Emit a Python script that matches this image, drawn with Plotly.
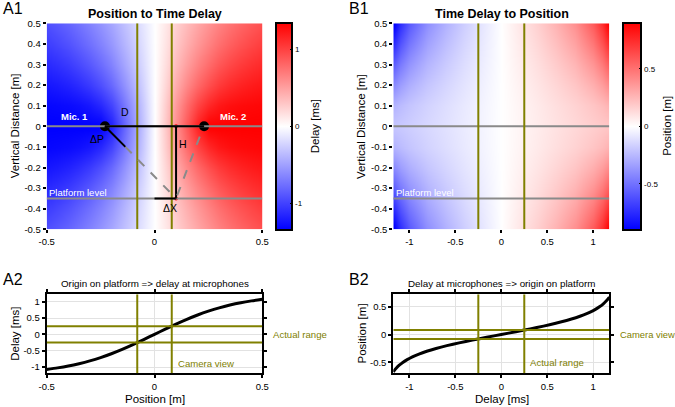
import plotly.graph_objects as go

FONT = "Liberation Sans, Arial, Helvetica, sans-serif"
OLIVE = "#808000"
GRAY = "#8a8a8a"

# ---------------- A1 : delay map (ms) ----------------
a1_x = [-0.5, -0.45, -0.4, -0.35, -0.3, -0.25, -0.2, -0.15, -0.1, -0.05, 0,
        0.05, 0.1, 0.15, 0.2, 0.25, 0.3, 0.35, 0.4, 0.45, 0.5]
a1_y = [-0.5, -0.4, -0.3, -0.2, -0.1, 0, 0.1, 0.2, 0.3, 0.4, 0.5]
delay_y0 = [-1.341, -1.341, -1.341, -1.341, -1.341, -1.341, -1.166, -0.875, -0.583, -0.292, 0,
            0.292, 0.583, 0.875, 1.166, 1.341, 1.341, 1.341, 1.341, 1.341, 1.341]
delay_y1 = [-1.309, -1.299, -1.285, -1.261, -1.217, -1.132, -0.983, -0.772, -0.527, -0.266, 0,
            0.266, 0.527, 0.772, 0.983, 1.132, 1.217, 1.261, 1.285, 1.299, 1.309]
delay_y2 = [-1.227, -1.200, -1.162, -1.109, -1.034, -0.930, -0.793, -0.624, -0.430, -0.219, 0,
            0.219, 0.430, 0.624, 0.793, 0.930, 1.034, 1.109, 1.162, 1.200, 1.227]
delay_y3 = [-1.124, -1.082, -1.029, -0.962, -0.877, -0.773, -0.650, -0.506, -0.347, -0.176, 0,
            0.176, 0.347, 0.506, 0.650, 0.773, 0.877, 0.962, 1.029, 1.082, 1.124]
delay_y4 = [-1.020, -0.969, -0.909, -0.837, -0.752, -0.654, -0.543, -0.419, -0.286, -0.145, 0,
            0.145, 0.286, 0.419, 0.543, 0.654, 0.752, 0.837, 0.909, 0.969, 1.020]
delay_y5 = [-0.923, -0.868, -0.805, -0.734, -0.652, -0.562, -0.462, -0.355, -0.241, -0.122, 0,
            0.122, 0.241, 0.355, 0.462, 0.562, 0.652, 0.734, 0.805, 0.868, 0.923]
a1_z = [delay_y5, delay_y4, delay_y3, delay_y2, delay_y1, delay_y0,
        delay_y1, delay_y2, delay_y3, delay_y4, delay_y5]

# ---------------- B1 : position map (m) ----------------
b1_x = [-1.175, -1.1, -1.0, -0.8, -0.6, -0.4, -0.2, 0, 0.2, 0.4, 0.6, 0.8, 1.0, 1.1, 1.175]
b1_y = [-0.5, -0.4, -0.3, -0.2, -0.1, 0, 0.1, 0.2, 0.3, 0.4, 0.5]
pos_y0 = [-0.2015, -0.1887, -0.1715, -0.1372, -0.1029, -0.0686, -0.0343, 0,
          0.0343, 0.0686, 0.1029, 0.1372, 0.1715, 0.1887, 0.2015]
pos_y1 = [-0.2714, -0.2370, -0.2048, -0.1560, -0.1144, -0.0754, -0.0375, 0,
          0.0375, 0.0754, 0.1144, 0.1560, 0.2048, 0.2370, 0.2714]
pos_y2 = [-0.4156, -0.3433, -0.2820, -0.2023, -0.1435, -0.0928, -0.0457, 0,
          0.0457, 0.0928, 0.1435, 0.2023, 0.2820, 0.3433, 0.4156]
pos_y3 = [-0.5813, -0.4697, -0.3770, -0.2618, -0.1820, -0.1162, -0.0568, 0,
          0.0568, 0.1162, 0.1820, 0.2618, 0.3770, 0.4697, 0.5813]
pos_y4 = [-0.7544, -0.6038, -0.4793, -0.3274, -0.2250, -0.1426, -0.0694, 0,
          0.0694, 0.1426, 0.2250, 0.3274, 0.4793, 0.6038, 0.7544]
pos_y5 = [-0.9308, -0.7413, -0.5852, -0.3961, -0.2705, -0.1706, -0.0828, 0,
          0.0828, 0.1706, 0.2705, 0.3961, 0.5852, 0.7413, 0.9308]
b1_z = [pos_y5, pos_y4, pos_y3, pos_y2, pos_y1, pos_y0,
        pos_y1, pos_y2, pos_y3, pos_y4, pos_y5]

# ---------------- A2 : delay vs position on platform ----------------
a2_pos = [-0.5, -0.45, -0.4, -0.35, -0.3, -0.25, -0.2, -0.15, -0.1, -0.05, 0,
          0.05, 0.1, 0.15, 0.2, 0.25, 0.3, 0.35, 0.4, 0.45, 0.5]
a2_delay = [-1.072, -1.024, -0.967, -0.896, -0.811, -0.710, -0.592, -0.459, -0.314, -0.159, 0,
            0.159, 0.314, 0.459, 0.592, 0.710, 0.811, 0.896, 0.967, 1.024, 1.072]

# ---------------- B2 : position vs delay ----------------
b2_delay = [-1.176, -1.167, -1.141, -1.110, -1.072, -1.024, -0.967, -0.896, -0.811, -0.710,
            -0.592, -0.459, -0.314, -0.159, 0, 0.159, 0.314, 0.459, 0.592, 0.710, 0.811,
            0.896, 0.967, 1.024, 1.072, 1.110, 1.141, 1.167, 1.176]
b2_pos = [-0.67, -0.65, -0.6, -0.55, -0.5, -0.45, -0.4, -0.35, -0.3, -0.25,
          -0.2, -0.15, -0.1, -0.05, 0, 0.05, 0.1, 0.15, 0.2, 0.25, 0.3,
          0.35, 0.4, 0.45, 0.5, 0.55, 0.6, 0.65, 0.67]

# geometry / ranges
mic_x = [-0.23, 0.23]
mic_y = [0, 0]
platform_y = -0.35
camera_view = [-0.08, 0.08]     # m
actual_range = [-0.25, 0.25]    # ms
source_x = 0.1
dp_end = [-0.135, -0.1]
mic2_dash_start = [0.21, -0.05]

ticks_pos = [-0.5, 0, 0.5]
ticks_pos_txt = ["-0.5", "0", "0.5"]
ticks_vert = [-0.5, -0.4, -0.3, -0.2, -0.1, 0, 0.1, 0.2, 0.3, 0.4, 0.5]
ticks_vert_txt = ["-0.5", "-0.4", "-0.3", "-0.2", "-0.1", "0", "0.1", "0.2", "0.3", "0.4", "0.5"]
ticks_delay = [-1, -0.5, 0, 0.5, 1]
ticks_delay_txt = ["-1", "-0.5", "0", "0.5", "1"]
cb1_ticks = [-1, 0, 1]
cb1_txt = ["-1", "0", "1"]
cb2_ticks = [-0.5, 0, 0.5]
cb2_txt = ["-0.5", "0", "0.5"]

W, H = 675, 407
def px(x): return x / W
def py(y): return (H - y) / H

bwr = [[0, "rgb(0,0,255)"], [0.5, "rgb(255,255,255)"], [1, "rgb(255,0,0)"]]

fig = go.Figure()

fig.add_trace(go.Heatmap(
    x=a1_x, y=a1_y, z=a1_z, zsmooth="best", colorscale=bwr, zmin=-1.341, zmax=1.341,
    xaxis="x", yaxis="y",
    colorbar=dict(x=px(276), xanchor="left", xpad=0, y=py(22.7), yanchor="top", ypad=0,
                  len=207 / H, lenmode="fraction", thickness=16, thicknessmode="pixels",
                  outlinecolor="black", outlinewidth=2,
                  tickvals=cb1_ticks, ticktext=cb1_txt, ticks="inside", ticklen=3,
                  tickcolor="black", tickfont=dict(size=8, family=FONT, color="black")),
))
fig.add_trace(go.Heatmap(
    x=b1_x, y=b1_y, z=b1_z, zsmooth="best", colorscale=bwr, zmin=-0.9, zmax=0.9,
    xaxis="x2", yaxis="y2",
    colorbar=dict(x=px(623), xanchor="left", xpad=0, y=py(22.7), yanchor="top", ypad=0,
                  len=207 / H, lenmode="fraction", thickness=18, thicknessmode="pixels",
                  outlinecolor="black", outlinewidth=2,
                  tickvals=cb2_ticks, ticktext=cb2_txt, ticks="inside", ticklen=3,
                  tickcolor="black", tickfont=dict(size=8, family=FONT, color="black")),
))

# mic markers & red dots
fig.add_trace(go.Scatter(x=mic_x, y=mic_y, mode="markers", xaxis="x", yaxis="y",
                         marker=dict(color="black", size=10), showlegend=False))
fig.add_trace(go.Scatter(x=[source_x, source_x], y=[0, platform_y], mode="markers",
                         xaxis="x", yaxis="y", marker=dict(color="red", size=4),
                         showlegend=False))

# curves
fig.add_trace(go.Scatter(x=a2_pos, y=a2_delay, mode="lines", xaxis="x3", yaxis="y3",
                         line=dict(color="black", width=3, shape="spline", smoothing=0.6),
                         showlegend=False))
fig.add_trace(go.Scatter(x=b2_delay, y=b2_pos, mode="lines", xaxis="x4", yaxis="y4",
                         line=dict(color="black", width=3, shape="spline", smoothing=0.6),
                         showlegend=False))

shapes = []
def line(xr, yr, x0, y0, x1, y1, color, width, dash="solid", layer="above"):
    shapes.append(dict(type="line", xref=xr, yref=yr, x0=x0, y0=y0, x1=x1, y1=y1,
                       line=dict(color=color, width=width, dash=dash), layer=layer))

# A1 lines
for yv in [0, platform_y]:
    line("x", "y", -0.5, yv, 0.5, yv, GRAY, 2)
for xv in camera_view:
    line("x", "y", xv, -0.5, xv, 0.5, OLIVE, 2)
line("x", "y", mic_x[0], 0, mic_x[1], 0, "black", 2)
line("x", "y", source_x, 0, source_x, platform_y, "black", 2)
line("x", "y", 0, platform_y, source_x, platform_y, "black", 2)
line("x", "y", mic_x[0], 0, dp_end[0], dp_end[1], "black", 2)
line("x", "y", dp_end[0], dp_end[1], source_x, platform_y, GRAY, 2, dash="dash")
line("x", "y", mic2_dash_start[0], mic2_dash_start[1], source_x, platform_y, GRAY, 2, dash="dash")

# B1 lines
for yv in [0, platform_y]:
    line("x2", "y2", -1.175, yv, 1.175, yv, GRAY, 2)
for xv in actual_range:
    line("x2", "y2", xv, -0.5, xv, 0.5, OLIVE, 2)

# A2 lines
for xv in camera_view:
    line("x3", "y3", xv, -1.19, xv, 1.225, OLIVE, 2)
for yv in actual_range:
    line("x3", "y3", -0.5, yv, 0.5, yv, OLIVE, 2)

# B2 lines
for xv in actual_range:
    line("x4", "y4", xv, -0.695, xv, 0.72, OLIVE, 2)
for yv in camera_view:
    line("x4", "y4", -1.175, yv, 1.175, yv, OLIVE, 2)

ann = []
def text(t, x, y, xr="paper", yr="paper", size=10, color="black", bold=False,
         xanchor="center", yanchor="middle", angle=0):
    if bold:
        t = "<b>" + t + "</b>"
    ann.append(dict(text=t, x=x, y=y, xref=xr, yref=yr, showarrow=False,
                    xanchor=xanchor, yanchor=yanchor, textangle=angle,
                    font=dict(size=size, color=color, family=FONT)))

# panel labels
text("A1", px(1), py(8), size=16, xanchor="left")
text("B1", px(347), py(8), size=16, xanchor="left")
text("A2", px(1), py(279), size=16, xanchor="left")
text("B2", px(347), py(279), size=16, xanchor="left")
# titles
text("Position to Time Delay", px(154.5), py(14), size=12.5, bold=True)
text("Time Delay to Position", px(501.7), py(14), size=12.5, bold=True)
text("Origin on platform => delay at microphones", px(154.5), py(283.5), size=9.8)
text("Delay at microphones => origin on platform", px(501.7), py(283.5), size=9.8)
# axis titles
text("Vertical Distance [m]", px(15), py(126.3), size=11.5, angle=-90)
text("Vertical Distance [m]", px(361.7), py(126.3), size=11.5, angle=-90)
text("Delay [ms]", px(15), py(333.8), size=11.5, angle=-90)
text("Position [m]", px(361.7), py(333.8), size=11.5, angle=-90)
text("Position [m]", px(154.5), py(399), size=11.5)
text("Delay [ms]", px(501.7), py(399), size=11.5)
# colorbar titles
text("Delay [ms]", px(315), py(126.3), size=11.5, angle=-90)
text("Position [m]", px(667.5), py(126.3), size=11.5, angle=-90)
# A1 annotations
text("Mic. 1", -0.37, 0.047, "x", "y", size=9.5, color="white", bold=True)
text("Mic. 2", 0.365, 0.047, "x", "y", size=9.5, color="white", bold=True)
text("D", -0.137, 0.07, "x", "y", size=10.5)
text("ΔP", -0.268, -0.063, "x", "y", size=10.5)
text("H", 0.133, -0.086, "x", "y", size=10.5)
text("ΔX", 0.072, -0.398, "x", "y", size=10.5)
text("Platform level", -0.497, -0.32, "x", "y", size=9.5, color="white", xanchor="left")
text("Platform level", -1.17, -0.32, "x2", "y2", size=9.5, color="white", xanchor="left")
# range labels
text("Actual range", px(270.5), 0, "paper", "y3", size=9.6, color=OLIVE, xanchor="left")
text("Camera view", 0.1, -0.9, "x3", "y3", size=9.6, color=OLIVE, xanchor="left")
text("Camera view", px(617.5), 0, "paper", "y4", size=9.4, color=OLIVE, xanchor="left")
text("Actual range", 0.29, -0.5, "x4", "y4", size=9.6, color=OLIVE, xanchor="left")

tickfont = dict(size=9.5, family=FONT, color="black")
map_ax = dict(showgrid=False, zeroline=False, showline=False, ticks="outside", ticklen=3,
              tickwidth=1.5, tickcolor="black", tickfont=tickfont)
line_ax = dict(showgrid=True, gridcolor="#e2e2e2", gridwidth=1, zeroline=False, showline=True,
               linecolor="black", linewidth=2, mirror="ticks", ticks="outside", ticklen=3,
               tickwidth=1.5, tickcolor="black", tickfont=tickfont)

A_dom = [px(46.7), px(262.3)]
B_dom = [px(393.3), px(609.3)]
top_dom = [py(229.3), py(23.3)]
bot_dom = [py(373.3), py(294.3)]

fig.update_layout(
    width=W, height=H, margin=dict(l=0, r=0, t=0, b=0, autoexpand=False),
    paper_bgcolor="white", plot_bgcolor="white",
    font=dict(family=FONT, color="black"),
    showlegend=False,
    xaxis=dict(domain=A_dom, range=[-0.5, 0.5], anchor="y", tickvals=ticks_pos,
               ticktext=ticks_pos_txt, **map_ax),
    yaxis=dict(domain=top_dom, range=[-0.5, 0.5], anchor="x", tickvals=ticks_vert,
               ticktext=ticks_vert_txt, **map_ax),
    xaxis2=dict(domain=B_dom, range=[-1.175, 1.175], anchor="y2", tickvals=ticks_delay,
                ticktext=ticks_delay_txt, **map_ax),
    yaxis2=dict(domain=top_dom, range=[-0.5, 0.5], anchor="x2", tickvals=ticks_vert,
                ticktext=ticks_vert_txt, **map_ax),
    xaxis3=dict(domain=A_dom, range=[-0.5, 0.5], anchor="y3", tickvals=ticks_pos,
                ticktext=ticks_pos_txt, **line_ax),
    yaxis3=dict(domain=bot_dom, range=[-1.19, 1.225], anchor="x3", tickvals=ticks_delay,
                ticktext=ticks_delay_txt, **line_ax),
    xaxis4=dict(domain=B_dom, range=[-1.175, 1.175], anchor="y4", tickvals=ticks_delay,
                ticktext=ticks_delay_txt, **line_ax),
    yaxis4=dict(domain=bot_dom, range=[-0.695, 0.72], anchor="x4", tickvals=cb2_ticks,
                ticktext=cb2_txt, **line_ax),
    shapes=shapes, annotations=ann,
)

fig.write_html("out.html", config={"displayModeBar": False},
               post_script="document.body.style.margin='0px';")
